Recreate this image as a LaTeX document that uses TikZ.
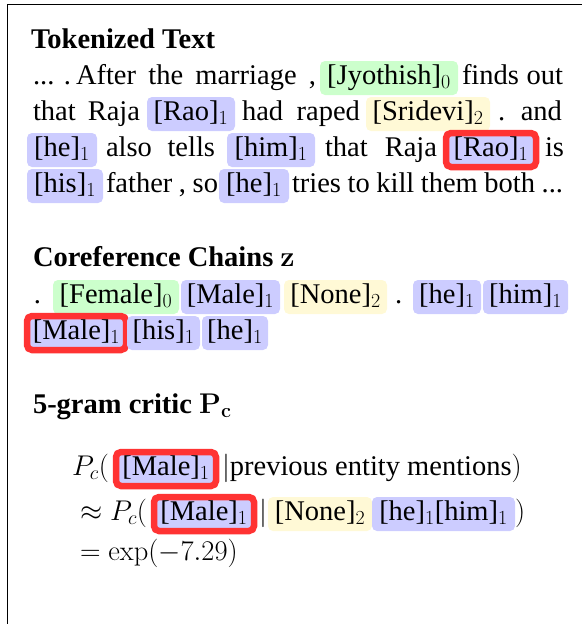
\documentclass[tikz,border=0pt]{standalone}
\usepackage{fix-cm}
\usepackage[no-math]{fontspec}
\setmainfont{Liberation Serif}
\usepackage{tikz}
\usetikzlibrary{positioning}
\definecolor{verde}{RGB}{204, 255, 204}
\definecolor{lila}{RGB}{204, 204, 255}
\definecolor{crema}{RGB}{255, 249, 214}
\definecolor{rojo}{RGB}{255, 51, 51}
\newcommand{\spread}[2]{\makebox[#1pt][s]{#2}}
\tikzset{
    word/.style={inner sep=0pt, outer sep=0pt, anchor=base west},
    ment/.style={rounded corners=5pt, inner sep=0pt, outer sep=0pt, text height=23pt, text depth=11pt, anchor=base west},
    fem/.style={ment, fill=verde},
    masc/.style={ment, fill=lila},
    none/.style={ment, fill=crema},
    pick/.style={draw=rojo, line width=6.5pt},
}
\begin{document}
\begin{tikzpicture}[x=1pt, y=-1pt, font=\fontsize{28.5}{34}\selectfont]
        \useasboundingbox (0,0) rectangle (582,624);
        \draw [line width=1.6pt] (7.5,624) -- (7.5,4.5) -- (582,4.5);

        % tokenized text
        \node [word] (ttl1) at (31,48) {\textbf{Tokenized Text}};
        \node [word] (l1a) at (33,84) {... .};
        \node [word] (l1b) at (76,84) {\spread{240}{After the marriage ,}};
        \node [fem, minimum width=138pt] (jyo) at (320,84) {[Jyothish]$_0$};
        \node [word] (l1c) at (462,84) {\spread{101}{finds out}};

        \node [word] (l2a) at (33,120) {\spread{107}{that Raja}};
        \node [masc, minimum width=88pt] (rao1) at (147,120) {[Rao]$_1$};
        \node [word] (l2b) at (242,120) {\spread{118}{had raped}};
        \node [none, minimum width=124pt] (sri) at (366,120) {[Sridevi]$_2$};
        \node [word] (l2c) at (498,120) {\spread{64}{.\ and}};

        \node [masc, minimum width=70pt] (he1) at (27,156) {[he]$_1$};
        \node [word] (l3a) at (106,156) {\spread{109}{also tells}};
        \node [masc, minimum width=88pt] (him1) at (227,156) {[him]$_1$};
        \node [word] (l3b) at (325,156) {\spread{112}{that Raja}};
        \node [masc, pick, minimum width=90pt] (rao2) at (446,156) {[Rao]$_1$};
        \node [word] (l3c) at (545,156) {is};

        \node [masc, minimum width=76pt] (his1) at (27,192) {[his]$_1$};
        \node [word] (l4a) at (106,192) {\spread{112}{father , so}};
        \node [masc, minimum width=70pt] (he2) at (219,192) {[he]$_1$};
        \node [word] (l4b) at (292,192) {\spread{271}{tries to kill them both ...}};

        % chains
        \node [word] (ttl2) at (33,266) {\textbf{Coreference Chains $\mathbf{z}$}};
        \node [word] (c1a) at (34,303) {.};
        \node [fem, minimum width=126pt] (fem1) at (53,303) {[Female]$_0$};
        \node [masc, minimum width=99pt] (male1) at (181,303) {[Male]$_1$};
        \node [none, minimum width=103pt] (none1) at (284,303) {[None]$_2$};
        \node [word] (c1b) at (395,303) {.};
        \node [masc, minimum width=68pt] (he3) at (413,303) {[he]$_1$};
        \node [masc, minimum width=85pt] (him2) at (483,303) {[him]$_1$};

        \node [masc, pick, minimum width=99pt] (male2) at (27,339) {[Male]$_1$};
        \node [masc, minimum width=73pt] (his2) at (127,339) {[his]$_1$};
        \node [masc, minimum width=66pt] (he4) at (202,339) {[he]$_1$};

        % critic
        \node [word] (ttl3) at (33,413) {\textbf{5-gram critic $\mathbf{P_c}$}};
        \node [word] (f1a) at (72,475) {$P_c($};
        \node [masc, pick, minimum width=100pt] (male3) at (116,475) {[Male]$_1$};
        \node [word] (f1b) at (222,475) {$|$previous entity mentions$)$};

        \node [word] (f2a) at (80,520) {$\approx P_c($};
        \node [masc, pick, minimum width=100pt] (male4) at (154,520) {[Male]$_1$};
        \node [word] (f2b) at (259,520) {$|$};
        \node [none, minimum width=104pt] (none2) at (268,520) {[None]$_2$};
        \node [masc, minimum width=143pt] (hehim) at (372,520) {[he]$_1$[him]$_1$};
        \node [word] (f2c) at (515,520) {$)$};

        \node [word] (f3a) at (80,560) {$=\exp(-7.29)$};
    \end{tikzpicture}
\end{document}
